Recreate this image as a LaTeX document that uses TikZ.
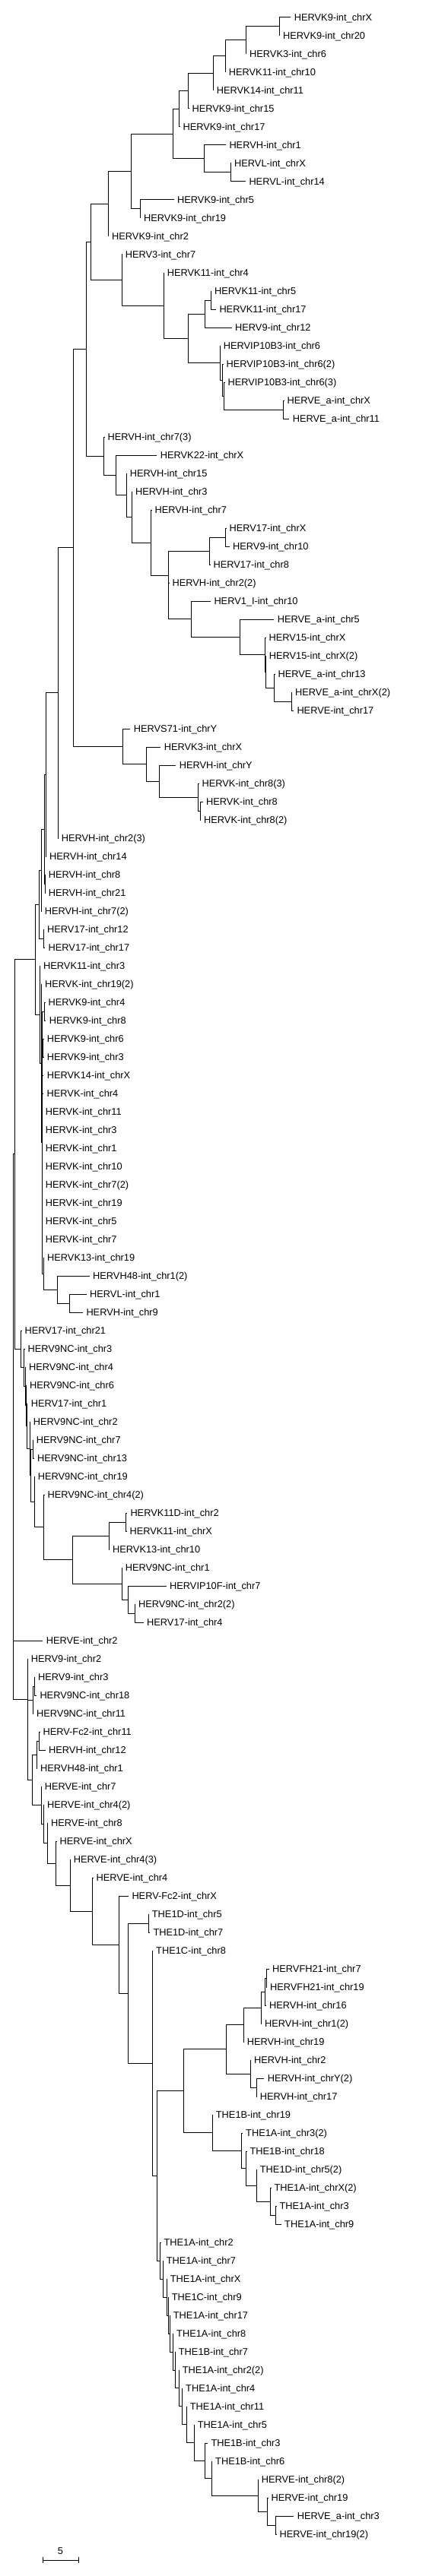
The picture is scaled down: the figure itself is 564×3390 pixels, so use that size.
\documentclass[tikz,border=0pt]{standalone}
\usepackage{fontspec}
\setmainfont{Liberation Sans}
\usetikzlibrary{calc}

% clade: name, x, upper child, lower child
\newcommand{\clade}[4]{%
  \coordinate (#1) at ($(#2,0 |- #3)!.5!(#2,0 |- #4)$);
  \draw[branch] (#3) -- (#2,0 |- #3) -- (#2,0 |- #4) -- (#4);
}

\begin{document}
\begin{tikzpicture}[x=1pt, y=-1pt,
    branch/.style={draw, line width=1pt},
    leaf/.style={anchor=west, inner xsep=4.5pt, inner ysep=0pt, text height=9pt, text depth=0pt, font=\fontsize{12.8}{14}\selectfont},
    barlabel/.style={anchor=south, inner sep=0pt, text height=9pt, text depth=0pt, font=\fontsize{12.8}{14}\selectfont}
]
\useasboundingbox (0,0) rectangle (564,3390);

% Tips
\node[leaf] (tip0) at (382.2,23) {HERVK9-int\_chrX};
\node[leaf] (tip1) at (367.5,47) {HERVK9-int\_chr20};
\node[leaf] (tip2) at (323.5,71) {HERVK3-int\_chr6};
\node[leaf] (tip3) at (296.2,95) {HERVK11-int\_chr10};
\node[leaf] (tip4) at (280.2,119) {HERVK14-int\_chr11};
\node[leaf] (tip5) at (247.9,143) {HERVK9-int\_chr15};
\node[leaf] (tip6) at (235.9,167) {HERVK9-int\_chr17};
\node[leaf] (tip7) at (296.8,191) {HERVH-int\_chr1};
\node[leaf] (tip8) at (303.5,215) {HERVL-int\_chrX};
\node[leaf] (tip9) at (322.8,239) {HERVL-int\_chr14};
\node[leaf] (tip10) at (228.5,263) {HERVK9-int\_chr5};
\node[leaf] (tip11) at (184.5,287) {HERVK9-int\_chr19};
\node[leaf] (tip12) at (142.5,311) {HERVK9-int\_chr2};
\node[leaf] (tip13) at (160.2,335) {HERV3-int\_chr7};
\node[leaf] (tip14) at (215.2,359) {HERVK11-int\_chr4};
\node[leaf] (tip15) at (277.5,383) {HERVK11-int\_chr5};
\node[leaf] (tip16) at (283.8,407) {HERVK11-int\_chr17};
\node[leaf] (tip17) at (304.5,431) {HERV9-int\_chr12};
\node[leaf] (tip18) at (289.2,455) {HERVIP10B3-int\_chr6};
\node[leaf] (tip19) at (292.9,479) {HERVIP10B3-int\_chr6(2)};
\node[leaf] (tip20) at (294.9,503) {HERVIP10B3-int\_chr6(3)};
\node[leaf] (tip21) at (372.9,527) {HERVE\_a-int\_chrX};
\node[leaf] (tip22) at (380.2,551) {HERVE\_a-int\_chr11};
\node[leaf] (tip23) at (136.9,575) {HERVH-int\_chr7(3)};
\node[leaf] (tip24) at (206.2,599) {HERVK22-int\_chrX};
\node[leaf] (tip25) at (166.2,623) {HERVH-int\_chr15};
\node[leaf] (tip26) at (173.5,647) {HERVH-int\_chr3};
\node[leaf] (tip27) at (198.9,671) {HERVH-int\_chr7};
\node[leaf] (tip28) at (296.9,695) {HERV17-int\_chrX};
\node[leaf] (tip29) at (301.5,719) {HERV9-int\_chr10};
\node[leaf] (tip30) at (275.9,743) {HERV17-int\_chr8};
\node[leaf] (tip31) at (221.9,767) {HERVH-int\_chr2(2)};
\node[leaf] (tip32) at (276.8,791) {HERV1\_I-int\_chr10};
\node[leaf] (tip33) at (360.2,815) {HERVE\_a-int\_chr5};
\node[leaf] (tip34) at (348.9,839) {HERV15-int\_chrX};
\node[leaf] (tip35) at (349.2,863) {HERV15-int\_chrX(2)};
\node[leaf] (tip36) at (360.9,887) {HERVE\_a-int\_chr13};
\node[leaf] (tip37) at (383.5,911) {HERVE\_a-int\_chrX(2)};
\node[leaf] (tip38) at (385.8,935) {HERVE-int\_chr17};
\node[leaf] (tip39) at (171.2,959) {HERVS71-int\_chrY};
\node[leaf] (tip40) at (211.2,983) {HERVK3-int\_chrX};
\node[leaf] (tip41) at (231.2,1007) {HERVH-int\_chrY};
\node[leaf] (tip42) at (260.9,1031) {HERVK-int\_chr8(3)};
\node[leaf] (tip43) at (266.5,1055) {HERVK-int\_chr8};
\node[leaf] (tip44) at (263.5,1079) {HERVK-int\_chr8(2)};
\node[leaf] (tip45) at (76.2,1103) {HERVH-int\_chr2(3)};
\node[leaf] (tip46) at (60.5,1127) {HERVH-int\_chr14};
\node[leaf] (tip47) at (59.2,1151) {HERVH-int\_chr8};
\node[leaf] (tip48) at (59.2,1175) {HERVH-int\_chr21};
\node[leaf] (tip49) at (54.2,1199) {HERVH-int\_chr7(2)};
\node[leaf] (tip50) at (57.5,1223) {HERV17-int\_chr12};
\node[leaf] (tip51) at (59,1247) {HERV17-int\_chr17};
\node[leaf] (tip52) at (52.5,1271) {HERVK11-int\_chr3};
\node[leaf] (tip53) at (54.5,1295) {HERVK-int\_chr19(2)};
\node[leaf] (tip54) at (58.9,1319) {HERVK9-int\_chr4};
\node[leaf] (tip55) at (60.2,1343) {HERVK9-int\_chr8};
\node[leaf] (tip56) at (57.2,1367) {HERVK9-int\_chr6};
\node[leaf] (tip57) at (57.2,1391) {HERVK9-int\_chr3};
\node[leaf] (tip58) at (57.2,1415) {HERVK14-int\_chrX};
\node[leaf] (tip59) at (57,1439) {HERVK-int\_chr4};
\node[leaf] (tip60) at (55.2,1463) {HERVK-int\_chr11};
\node[leaf] (tip61) at (55.2,1487) {HERVK-int\_chr3};
\node[leaf] (tip62) at (55.2,1511) {HERVK-int\_chr1};
\node[leaf] (tip63) at (55.2,1535) {HERVK-int\_chr10};
\node[leaf] (tip64) at (55.2,1559) {HERVK-int\_chr7(2)};
\node[leaf] (tip65) at (55.2,1583) {HERVK-int\_chr19};
\node[leaf] (tip66) at (55.2,1607) {HERVK-int\_chr5};
\node[leaf] (tip67) at (55.2,1631) {HERVK-int\_chr7};
\node[leaf] (tip68) at (57.5,1655) {HERVK13-int\_chr19};
\node[leaf] (tip69) at (117.5,1679) {HERVH48-int\_chr1(2)};
\node[leaf] (tip70) at (113.5,1703) {HERVL-int\_chr1};
\node[leaf] (tip71) at (108.8,1727) {HERVH-int\_chr9};
\node[leaf] (tip72) at (27.9,1751) {HERV17-int\_chr21};
\node[leaf] (tip73) at (31.9,1775) {HERV9NC-int\_chr3};
\node[leaf] (tip74) at (33.5,1799) {HERV9NC-int\_chr4};
\node[leaf] (tip75) at (34.5,1823) {HERV9NC-int\_chr6};
\node[leaf] (tip76) at (36.2,1847) {HERV17-int\_chr1};
\node[leaf] (tip77) at (39.2,1871) {HERV9NC-int\_chr2};
\node[leaf] (tip78) at (43.2,1895) {HERV9NC-int\_chr7};
\node[leaf] (tip79) at (44.5,1919) {HERV9NC-int\_chr13};
\node[leaf] (tip80) at (45.2,1943) {HERV9NC-int\_chr19};
\node[leaf] (tip81) at (57.9,1967) {HERV9NC-int\_chr4(2)};
\node[leaf] (tip82) at (166.8,1991) {HERVK11D-int\_chr2};
\node[leaf] (tip83) at (165.9,2015) {HERVK11-int\_chrX};
\node[leaf] (tip84) at (143.5,2039) {HERVK13-int\_chr10};
\node[leaf] (tip85) at (160.2,2063) {HERV9NC-int\_chr1};
\node[leaf] (tip86) at (218.5,2087) {HERVIP10F-int\_chr7};
\node[leaf] (tip87) at (177.5,2111) {HERV9NC-int\_chr2(2)};
\node[leaf] (tip88) at (188.5,2135) {HERV17-int\_chr4};
\node[leaf] (tip89) at (56.2,2159) {HERVE-int\_chr2};
\node[leaf] (tip90) at (36.2,2183) {HERV9-int\_chr2};
\node[leaf] (tip91) at (45.5,2207) {HERV9-int\_chr3};
\node[leaf] (tip92) at (47.8,2231) {HERV9NC-int\_chr18};
\node[leaf] (tip93) at (43.5,2255) {HERV9NC-int\_chr11};
\node[leaf] (tip94) at (51.9,2279) {HERV-Fc2-int\_chr11};
\node[leaf] (tip95) at (59.5,2303) {HERVH-int\_chr12};
\node[leaf] (tip96) at (48.5,2327) {HERVH48-int\_chr1};
\node[leaf] (tip97) at (54.2,2351) {HERVE-int\_chr7};
\node[leaf] (tip98) at (57.5,2375) {HERVE-int\_chr4(2)};
\node[leaf] (tip99) at (62.5,2399) {HERVE-int\_chr8};
\node[leaf] (tip100) at (73.9,2423) {HERVE-int\_chrX};
\node[leaf] (tip101) at (92.2,2447) {HERVE-int\_chr4(3)};
\node[leaf] (tip102) at (121.9,2471) {HERVE-int\_chr4};
\node[leaf] (tip103) at (168.8,2495) {HERV-Fc2-int\_chrX};
\node[leaf] (tip104) at (195.2,2519) {THE1D-int\_chr5};
\node[leaf] (tip105) at (196.8,2543) {THE1D-int\_chr7};
\node[leaf] (tip106) at (200.5,2567) {THE1C-int\_chr8};
\node[leaf] (tip107) at (353.5,2591) {HERVFH21-int\_chr7};
\node[leaf] (tip108) at (350.4,2615) {HERVFH21-int\_chr19};
\node[leaf] (tip109) at (349.5,2639) {HERVH-int\_chr16};
\node[leaf] (tip110) at (343.5,2663) {HERVH-int\_chr1(2)};
\node[leaf] (tip111) at (320.2,2687) {HERVH-int\_chr19};
\node[leaf] (tip112) at (329.5,2711) {HERVH-int\_chr2};
\node[leaf] (tip113) at (347.2,2735) {HERVH-int\_chrY(2)};
\node[leaf] (tip114) at (337.2,2759) {HERVH-int\_chr17};
\node[leaf] (tip115) at (279.2,2783) {THE1B-int\_chr19};
\node[leaf] (tip116) at (318.5,2807) {THE1A-int\_chr3(2)};
\node[leaf] (tip117) at (323.9,2831) {THE1B-int\_chr18};
\node[leaf] (tip118) at (337.2,2855) {THE1D-int\_chr5(2)};
\node[leaf] (tip119) at (355.9,2879) {THE1A-int\_chrX(2)};
\node[leaf] (tip120) at (362.9,2903) {THE1A-int\_chr3};
\node[leaf] (tip121) at (369.5,2927) {THE1A-int\_chr9};
\node[leaf] (tip122) at (210.9,2951) {THE1A-int\_chr2};
\node[leaf] (tip123) at (214.2,2975) {THE1A-int\_chr7};
\node[leaf] (tip124) at (219.2,2999) {THE1A-int\_chrX};
\node[leaf] (tip125) at (221.2,3023) {THE1C-int\_chr9};
\node[leaf] (tip126) at (223.2,3047) {THE1A-int\_chr17};
\node[leaf] (tip127) at (227.5,3071) {THE1A-int\_chr8};
\node[leaf] (tip128) at (230.2,3095) {THE1B-int\_chr7};
\node[leaf] (tip129) at (235.2,3119) {THE1A-int\_chr2(2)};
\node[leaf] (tip130) at (239.5,3143) {THE1A-int\_chr4};
\node[leaf] (tip131) at (245.2,3167) {THE1A-int\_chr11};
\node[leaf] (tip132) at (255.2,3191) {THE1A-int\_chr5};
\node[leaf] (tip133) at (272.8,3215) {THE1B-int\_chr3};
\node[leaf] (tip134) at (278.5,3239) {THE1B-int\_chr6};
\node[leaf] (tip135) at (339.2,3263) {HERVE-int\_chr8(2)};
\node[leaf] (tip136) at (351.9,3287) {HERVE-int\_chr19};
\node[leaf] (tip137) at (386.2,3311) {HERVE\_a-int\_chr3};
\node[leaf] (tip138) at (362.9,3335) {HERVE-int\_chr19(2)};

% HERVK9 / HERVK11 group
\clade{cA}{367.3}{tip0.west}{tip1.west}
\clade{cB}{323.3}{cA}{tip2.west}
\clade{cC}{296}{cB}{tip3.west}
\clade{cD}{280}{cC}{tip4.west}
\clade{cE}{247.7}{cD}{tip5.west}
\clade{cF}{235.7}{cE}{tip6.west}
\clade{cH}{303.3}{tip8.west}{tip9.west}
\clade{cG}{268}{tip7.west}{cH}
\clade{cI}{227.3}{cF}{cG}
\clade{cJ}{184.3}{tip10.west}{tip11.west}
\clade{cK}{172.7}{cI}{cJ}
\clade{cL}{142.3}{cK}{tip12.west}
\clade{cS}{277.3}{tip15.west}{tip16.west}
\clade{cQ}{269.3}{cS}{tip17.west}
\clade{cV}{372.7}{tip21.west}{tip22.west}
\clade{cU}{294.7}{tip20.west}{cV}
\clade{cT}{292.7}{tip19.west}{cU}
\clade{cR}{289}{tip18.west}{cT}
\clade{cP}{247.7}{cQ}{cR}
\clade{cO}{215}{tip14.west}{cP}
\clade{cN}{160}{tip13.west}{cO}
\clade{cM}{119}{cL}{cN}

% HERVH group
\clade{cAG}{296.7}{tip28.west}{tip29.west}
\clade{cAE}{275.7}{cAG}{tip30.west}
\clade{cAL}{383.3}{tip37.west}{tip38.west}
\clade{cAK}{360.7}{tip36.west}{cAL}
\clade{cAJb}{349}{tip35.west}{cAK}
\clade{cAJ}{348.7}{tip34.west}{cAJb}
\clade{cAI}{315.3}{tip33.west}{cAJ}
\clade{cAH}{251.7}{tip32.west}{cAI}
\clade{cAF}{221.7}{tip31.west}{cAH}
\clade{cAD}{221}{cAE}{cAF}
\clade{cAC}{198.7}{tip27.west}{cAD}
\clade{cAB}{173.3}{tip26.west}{cAC}
\clade{cAA}{166}{tip25.west}{cAB}
\clade{cZ}{152.3}{tip24.west}{cAA}
\clade{cY}{136.7}{tip23.west}{cZ}
\clade{cW}{113.3}{cM}{cY}
\clade{cAS}{263.3}{tip43.west}{tip44.west}
\clade{cAR}{260.7}{tip42.west}{cAS}
\clade{cAQ}{209}{tip41.west}{cAR}
\clade{cAP}{192.3}{tip40.west}{cAQ}
\clade{cAM}{161.7}{tip39.west}{cAP}
\clade{cX}{96.7}{cW}{cAM}
\clade{cAN}{76}{cX}{tip45.west}
\clade{cAO}{60.3}{cAN}{tip46.west}
\clade{cVa}{59}{tip47.west}{tip48.west}
\clade{cUe}{58.3}{cAO}{cVa}
\clade{cUd}{54}{cUe}{tip49.west}
\clade{cHs}{57.3}{tip50.west}{tip51.west}
\clade{cUc}{51.7}{cUd}{cHs}

% HERVK comb
\clade{cPa}{58.7}{tip54.west}{tip55.west}
\clade{cPb}{56.7}{tip56.west}{tip57.west}
\clade{cZb}{91}{tip70.west}{tip71.west}
\clade{cZa}{75.7}{tip69.west}{cZb}
\clade{cZc}{57.3}{tip68.west}{cZa}
\clade{cUh}{55}{cPa}{cZc}
\draw[branch] (cUh |- cPb) -- (cPb);
\draw[branch] (cUh |- tip58.west) -- (tip58.west);
\draw[branch] (cUh |- tip59.west) -- (tip59.west);
\draw[branch] (cUh |- tip60.west) -- (tip60.west);
\draw[branch] (cUh |- tip61.west) -- (tip61.west);
\draw[branch] (cUh |- tip62.west) -- (tip62.west);
\draw[branch] (cUh |- tip63.west) -- (tip63.west);
\draw[branch] (cUh |- tip64.west) -- (tip64.west);
\draw[branch] (cUh |- tip65.west) -- (tip65.west);
\draw[branch] (cUh |- tip66.west) -- (tip66.west);
\draw[branch] (cUh |- tip67.west) -- (tip67.west);
\clade{cUg}{54.3}{tip53.west}{cUh}
\clade{cUf}{52.3}{tip52.west}{cUg}
\clade{cUa}{46.7}{cUc}{cUf}

% HERV9NC group
\clade{cQc}{165.7}{tip82.west}{tip83.west}
\clade{cQa}{143.3}{cQc}{tip84.west}
\clade{cQe}{177.3}{tip87.west}{tip88.west}
\clade{cQd}{168}{tip86.west}{cQe}
\clade{cQb}{160}{tip85.west}{cQd}
\clade{cPe}{95}{cQa}{cQb}
\clade{cPd}{57.7}{tip81.west}{cPe}
\clade{cPc}{45}{tip80.west}{cPd}
\clade{cPf}{43}{tip78.west}{tip79.west}
\clade{cPg}{40.7}{cPf}{cPc}
\clade{cPh}{39}{tip77.west}{cPg}
\clade{cPi}{35}{tip76.west}{cPh}
\clade{cPj}{34.3}{tip75.west}{cPi}
\clade{cUk}{33.3}{tip74.west}{cPj}
\clade{cUj}{31.7}{tip73.west}{cUk}
\clade{cUb}{27.7}{tip72.west}{cUj}
\clade{cRa}{19}{cUa}{cUb}

% HERVE / THE1 group
\clade{cSa}{362.7}{tip137.west}{tip138.west}
\clade{cSb}{351.7}{tip136.west}{cSa}
\clade{cSc}{339}{tip135.west}{cSb}
\clade{cSd}{278.3}{tip134.west}{cSc}
\clade{cSe}{269}{tip133.west}{cSd}
\clade{cSf}{255}{tip132.west}{cSe}
\clade{cSg}{245}{tip131.west}{cSf}
\clade{cSh}{239.3}{tip130.west}{cSg}
\clade{cSi}{235}{tip129.west}{cSh}
\clade{cSj}{230}{tip128.west}{cSi}
\clade{cSk}{227.3}{tip127.west}{cSj}
\clade{cTa}{223}{tip126.west}{cSk}
\clade{cTb}{221}{tip125.west}{cTa}
\clade{cTc}{219}{tip124.west}{cTb}
\clade{cTd}{214}{tip123.west}{cTc}
\clade{cTe}{210.7}{tip122.west}{cTd}
\clade{cVd}{362.7}{tip120.west}{tip121.west}
\clade{cVe}{355.7}{tip119.west}{cVd}
\clade{cVf}{337}{tip118.west}{cVe}
\clade{cVg}{323.7}{tip117.west}{cVf}
\clade{cVh}{317}{tip116.west}{cVg}
\clade{cVi}{279}{tip115.west}{cVh}
\clade{cWa}{350}{tip107.west}{tip108.west}
\clade{cWb}{348.3}{cWa}{tip109.west}
\clade{cWc}{343.3}{cWb}{tip110.west}
\clade{cWd}{320}{cWc}{tip111.west}
\clade{cWe}{337}{tip113.west}{tip114.west}
\clade{cWf}{329.3}{tip112.west}{cWe}
\clade{cWg}{297.3}{cWd}{cWf}
\clade{cWh}{241}{cWg}{cVi}
\clade{cWi}{206}{cWh}{cTe}
\clade{cWj}{200.3}{tip106.west}{cWi}
\clade{cWk}{195}{tip104.west}{tip105.west}
\clade{cXa}{168}{cWk}{cWj}
\clade{cXb}{156}{tip103.west}{cXa}
\clade{cXc}{121.7}{tip102.west}{cXb}
\clade{cXd}{92}{tip101.west}{cXc}
\clade{cXe}{73.7}{tip100.west}{cXd}
\clade{cXf}{62.3}{tip99.west}{cXe}
\clade{cXg}{57.3}{tip98.west}{cXf}
\clade{cXh}{54}{tip97.west}{cXg}
\clade{cYa}{51.7}{tip94.west}{tip95.west}
\clade{cYb}{48.3}{cYa}{tip96.west}
\clade{cYc}{42.7}{cYb}{cXh}
\clade{cYd}{45.3}{tip91.west}{tip92.west}
\clade{cYe}{43.3}{cYd}{tip93.west}
\clade{cYf}{36.7}{cYe}{cYc}
\clade{cYg}{36}{tip90.west}{cYf}

% Root
\clade{cRoot}{17.3}{cRa}{cYg}
\draw[branch] (cRoot |- tip89.west) -- (tip89.west);

% Scale bar
\coordinate (bar0) at (56,3369);
\coordinate (bar1) at (103,3369);
\draw[branch] (bar0) -- (bar1);
\draw[branch] ([yshift=4pt]bar0) -- ([yshift=-4pt]bar0);
\draw[branch] ([yshift=4pt]bar1) -- ([yshift=-4pt]bar1);
\node[barlabel] (five) at ($(bar0)!.5!(bar1) + (0,-7.5)$) {5};

\end{tikzpicture}
\end{document}
